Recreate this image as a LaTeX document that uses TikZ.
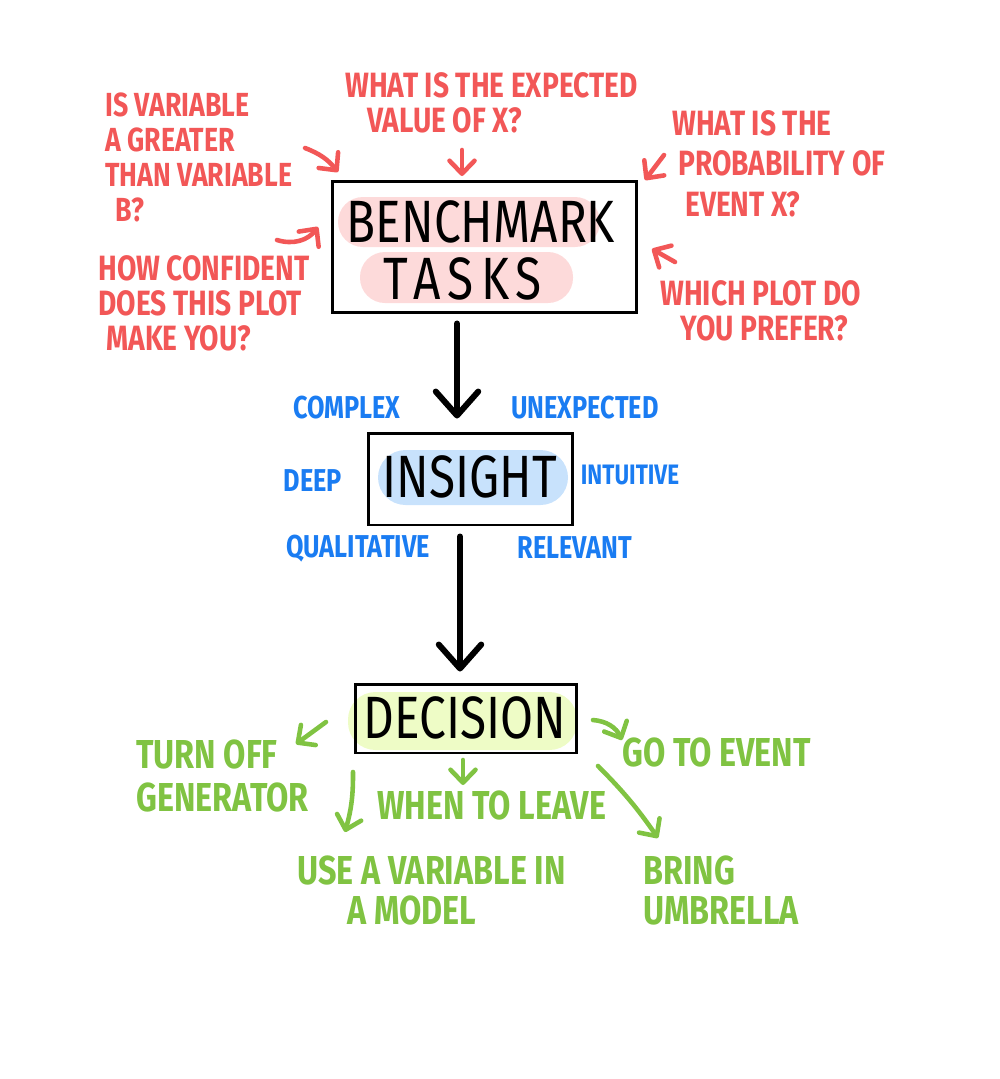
\documentclass[tikz,border=0pt]{standalone}
\usepackage{fontspec}
\setmainfont{Fira Sans}
\newfontfamily\handfont{Fira Sans}[FakeStretch=0.8]
\usepackage{xcolor}
\usetikzlibrary{arrows.meta, positioning}

\definecolor{qred}{HTML}{F25757}
\definecolor{qpink}{HTML}{FDDADA}
\definecolor{qblue}{HTML}{1A7CF2}
\definecolor{qlblue}{HTML}{C8E2FC}
\definecolor{qgreen}{HTML}{80C342}
\definecolor{qlgreen}{HTML}{EEFCC6}

\begin{document}
\begin{tikzpicture}[x=0.02cm, y=-0.02cm,
    stepbox/.style={draw=black, line width=1.7pt, inner sep=0pt},
    title/.style={font=\handfont\fontsize{34}{36}\selectfont, text=black, inner sep=0pt},
    redtxt/.style={text=qred, font=\handfont\bfseries\fontsize{20}{20}\selectfont, align=left, anchor=north west, inner sep=0pt},
    bluetxt/.style={text=qblue, font=\handfont\bfseries\fontsize{18}{18}\selectfont, inner sep=0pt},
    greentxt/.style={text=qgreen, font=\handfont\bfseries\fontsize{23}{23}\selectfont, align=left, inner sep=0pt},
    bigarrow/.style={line width=3.4pt, line cap=round, -{Straight Barb[length=4.8mm, width=8.5mm, line join=round, line cap=round]}},
    redarrow/.style={qred, line width=2.6pt, line cap=round, -{Straight Barb[length=2.6mm, width=5mm, line join=round, line cap=round]}},
    greenarrow/.style={qgreen, line width=2.6pt, line cap=round, -{Straight Barb[length=2.6mm, width=5mm, line join=round, line cap=round]}}]
    \useasboundingbox (0,0) rectangle (1000,1079);

    % 1. Highlights
    \fill[qpink, rounded corners=0.5cm] (338,197) rectangle (600,247);
    \fill[qpink, rounded corners=0.5cm] (360,252) rectangle (573,303);
    \fill[qlblue, rounded corners=0.55cm] (378,450) rectangle (568,505);
    \fill[qlgreen, rounded corners=0.55cm] (348,692) rectangle (577,750);

    % 2. Boxes
    \node[stepbox, minimum width=6.1cm, minimum height=2.64cm] (bench) at (484.5,247) {};
    \node[stepbox, minimum width=4.1cm, minimum height=1.84cm] (insight) at (470.5,479) {};
    \node[stepbox, minimum width=4.44cm, minimum height=1.38cm] (decision) at (466,718.5) {};
    \node[title] (benchtxt) at (481,222) {BENCHMARK};
    \node[title] (taskstxt) at (463,279) {\addfontfeature{LetterSpace=12}TASKS};
    \node[title] (insighttxt) at (470,477) {INSIGHT};
    \node[title] (decisiontxt) at (465,718) {DECISION};

    % 3. Main arrows
    \draw[bigarrow] ([xshift=-0.55cm, yshift=-0.18cm]bench.south) -- ([xshift=-0.27cm, yshift=0.26cm]insight.north);
    \draw[bigarrow] ([xshift=-0.21cm, yshift=-0.2cm]insight.south) -- ([xshift=-0.12cm, yshift=0.22cm]decision.north);

    % 4. Benchmark questions
    \node[redtxt, font=\handfont\bfseries\fontsize{19}{20}\selectfont] (qgreater) at (105,92) {IS VARIABLE\\A GREATER\\THAN VARIABLE\\\hspace{0.2cm}B?};
    \node[redtxt] (qexpect) at (345,72) {WHAT IS THE EXPECTED\\\hspace{0.44cm}VALUE OF X?};
    \node[redtxt] (qprob) at (672,110) {WHAT IS THE\\[3pt]\hspace{0.12cm}PROBABILITY OF\\[3pt]\hspace{0.26cm}EVENT X?};
    \node[redtxt] (qconf) at (98,255) {HOW CONFIDENT\\DOES THIS PLOT\\\hspace{0.16cm}MAKE YOU?};
    \node[redtxt] (qplot) at (660,280) {WHICH PLOT DO\\\hspace{0.4cm}YOU PREFER?};

    \coordinate (r1a) at (305,148); \coordinate (r1b) at (338,172);
    \coordinate (r2a) at (462,150); \coordinate (r2b) at (462,176);
    \coordinate (r3a) at (664,155); \coordinate (r3b) at (645,180);
    \coordinate (r4a) at (277,240); \coordinate (r4b) at (318,227);
    \coordinate (r5a) at (675,262); \coordinate (r5b) at (652,249);
    \draw[redarrow] (r1a) to[bend left=15] (r1b);
    \draw[redarrow] (r2a) -- (r2b);
    \draw[redarrow] (r3a) -- (r3b);
    \draw[redarrow] (r4a) to[bend right=35] (r4b);
    \draw[redarrow] (r5a) -- (r5b);

    % 5. Kinds of insight
    \node[bluetxt] (complex) at (347,408) {COMPLEX};
    \node[bluetxt] (unexp) at (585,408) {UNEXPECTED};
    \node[bluetxt] (deep) at (313,481) {DEEP};
    \node[bluetxt, font=\handfont\bfseries\fontsize{16}{16}\selectfont] (intuit) at (630,475) {INTUITIVE};
    \node[bluetxt] (qualit) at (358,549) {QUALITATIVE};
    \node[bluetxt] (relev) at (575,548) {RELEVANT};

    % 6. Decisions
    \node[greentxt, anchor=north west] (turnoff) at (136,739) {TURN OFF\\[2pt]GENERATOR};
    \node[greentxt, anchor=west] (event) at (622,752) {GO TO EVENT};
    \node[greentxt] (leave) at (492,805) {WHEN TO LEAVE};
    \node[greentxt, anchor=north west] (usevar) at (297,855) {USE A VARIABLE IN\\\hspace{1cm}A MODEL};
    \node[greentxt, anchor=north west] (umbrella) at (643,855) {BRING\\UMBRELLA};

    \coordinate (g1a) at (326,722); \coordinate (g1b) at (296,744);
    \coordinate (g2a) at (353,772); \coordinate (g2b) at (345,832);
    \coordinate (g3a) at (463,760); \coordinate (g3b) at (463,785);
    \coordinate (g4a) at (593,720); \coordinate (g4b) at (622,740);
    \coordinate (g5a) at (598,766); \coordinate (g5b) at (658,838);
    \draw[greenarrow] (g1a) -- (g1b);
    \draw[greenarrow] (g2a) to[bend left=8] (g2b);
    \draw[greenarrow] (g3a) -- (g3b);
    \draw[greenarrow] (g4a) to[bend left=30] (g4b);
    \draw[greenarrow] (g5a) to[bend left=5] (g5b);
\end{tikzpicture}
\end{document}
